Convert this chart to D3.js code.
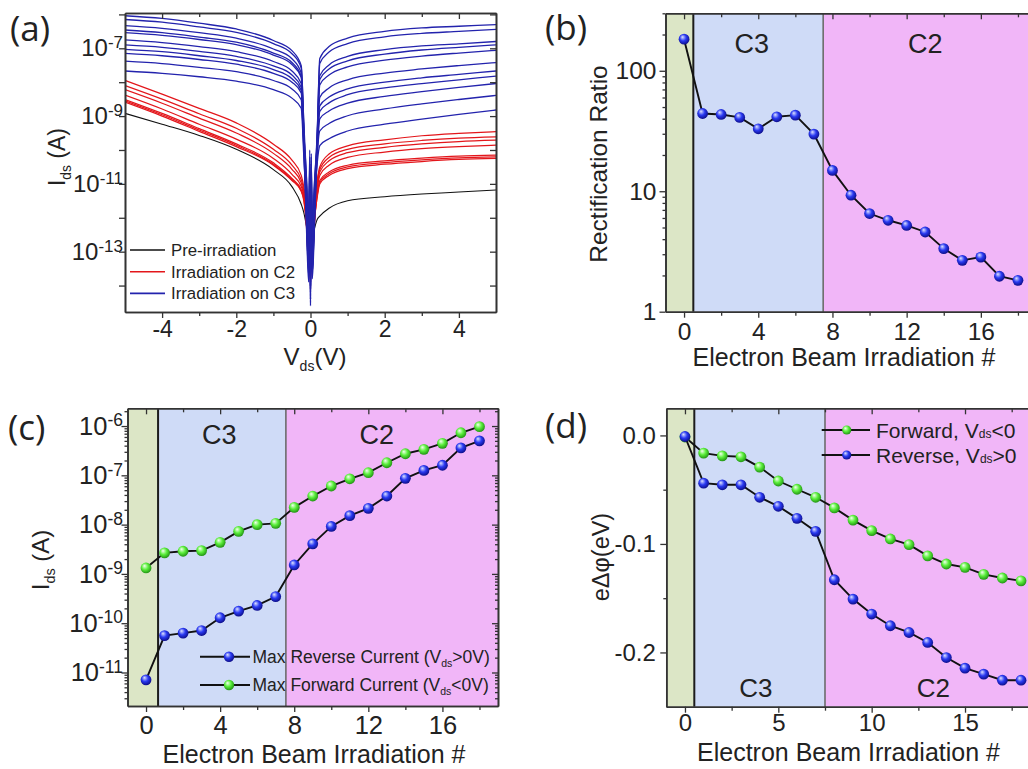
<!DOCTYPE html>
<html><head><meta charset="utf-8">
<script src="https://cdn.jsdelivr.net/npm/d3@7"></script>
<style>
html,body{margin:0;padding:0;background:#fff;}
svg{display:block;}
</style></head><body>
<svg id="chart" width="1028" height="769"></svg>
<script>
// ======================= DATA =======================
// Panel (a): I-V curves, values are log10(Ids / A) read at these Vds (V)
const vdsGrid = [-5,-4,-3,-2,-1,-0.5,-0.25,-0.18,-0.1,-0.05,-0.02,0,0.02,0.05,0.1,0.18,0.25,0.5,1,2,3,4,5];
const logIdsPre = [-8.92,-9.24,-9.57,-9.98,-10.58,-11.08,-11.6,-11.85,-12.3,-12.6,-12.85,-13.0,-12.85,-12.6,-12.35,-12.05,-11.95,-11.72,-11.5,-11.38,-11.3,-11.24,-11.18];
const logIdsC2 = [
  [-8.59,-9.0,-9.45,-9.9,-10.45,-10.9,-11.22,-11.5,-12.2,-13.0,-12.1,-13.8,-12.3,-12.9,-12.1,-11.4,-11.0,-10.75,-10.55,-10.42,-10.34,-10.28,-10.25],
  [-8.55,-8.96,-9.41,-9.86,-10.42,-10.87,-11.2,-11.45,-12.4,-13.3,-12.4,-14.0,-12.0,-13.1,-12.2,-11.35,-10.95,-10.7,-10.5,-10.37,-10.29,-10.23,-10.2],
  [-8.51,-8.92,-9.37,-9.82,-10.38,-10.84,-11.17,-11.4,-11.9,-12.8,-11.9,-13.6,-12.4,-12.7,-11.8,-11.3,-10.9,-10.65,-10.45,-10.32,-10.24,-10.18,-10.15],
  [-8.38,-8.79,-9.24,-9.68,-10.25,-10.72,-11.08,-11.35,-12.3,-13.2,-12.2,-13.9,-12.1,-13.2,-12.3,-11.2,-10.75,-10.45,-10.22,-10.06,-9.96,-9.9,-9.86],
  [-8.22,-8.62,-9.06,-9.5,-10.1,-10.57,-10.97,-11.3,-12.0,-12.9,-12.0,-13.7,-12.5,-12.8,-11.9,-11.1,-10.65,-10.32,-10.08,-9.92,-9.82,-9.75,-9.71],
  [-8.1,-8.5,-8.93,-9.36,-9.98,-10.45,-10.88,-11.2,-12.3,-13.4,-12.3,-14.1,-12.2,-13.3,-12.2,-11.0,-10.58,-10.22,-9.98,-9.82,-9.72,-9.65,-9.61],
  [-7.95,-8.35,-8.77,-9.2,-9.83,-10.3,-10.75,-11.1,-11.8,-12.7,-11.8,-13.5,-12.0,-12.6,-11.7,-10.9,-10.5,-10.12,-9.88,-9.7,-9.58,-9.51,-9.46]
];
const logIdsC3 = [
  [-7.67,-7.74,-7.84,-7.97,-8.22,-8.47,-8.77,-10.2,-11.9,-13.2,-10.8,-14.0,-11.0,-13.1,-11.7,-10.4,-9.87,-9.67,-9.44,-9.24,-9.09,-8.95,-8.82],
  [-7.38,-7.45,-7.56,-7.69,-7.95,-8.2,-8.52,-10.0,-12.4,-13.7,-11.3,-14.4,-10.6,-13.6,-12.3,-10.2,-9.44,-9.22,-8.99,-8.79,-8.64,-8.51,-8.39],
  [-7.15,-7.22,-7.33,-7.47,-7.74,-8.0,-8.32,-9.9,-11.2,-12.6,-10.4,-13.8,-11.4,-12.8,-11.3,-10.1,-9.08,-8.85,-8.62,-8.42,-8.28,-8.15,-8.04],
  [-7.03,-7.1,-7.22,-7.36,-7.63,-7.9,-8.24,-9.8,-12.6,-13.9,-11.0,-14.5,-10.3,-13.8,-12.5,-10.0,-8.86,-8.61,-8.37,-8.17,-8.04,-7.93,-7.82],
  [-6.9,-6.97,-7.09,-7.24,-7.52,-7.79,-8.15,-9.7,-11.5,-13.0,-10.2,-14.1,-11.2,-13.2,-11.6,-9.9,-8.7,-8.44,-8.2,-8.0,-7.87,-7.77,-7.67],
  [-6.75,-6.83,-6.95,-7.1,-7.39,-7.67,-8.04,-9.6,-12.2,-13.6,-11.6,-14.6,-10.1,-13.5,-12.1,-9.9,-8.45,-8.17,-7.93,-7.73,-7.61,-7.51,-7.42],
  [-6.54,-6.62,-6.74,-6.89,-7.2,-7.48,-7.86,-9.5,-11.0,-12.5,-10.0,-13.9,-10.9,-12.6,-11.1,-9.8,-8.08,-7.79,-7.55,-7.35,-7.23,-7.14,-7.06],
  [-6.46,-6.54,-6.67,-6.82,-7.14,-7.42,-7.82,-9.5,-12.0,-13.3,-10.7,-14.3,-11.5,-13.3,-12.0,-9.7,-7.92,-7.61,-7.37,-7.17,-7.05,-6.97,-6.9],
  [-6.33,-6.41,-6.54,-6.7,-7.02,-7.31,-7.73,-9.4,-11.4,-12.8,-11.2,-14.0,-10.4,-12.9,-11.5,-9.6,-7.81,-7.49,-7.24,-7.04,-6.93,-6.87,-6.8],
  [-6.15,-6.23,-6.37,-6.53,-6.86,-7.16,-7.58,-9.3,-12.3,-13.5,-10.5,-14.4,-11.1,-13.6,-12.2,-9.6,-7.45,-7.11,-6.86,-6.66,-6.56,-6.5,-6.44],
  [-6.04,-6.12,-6.26,-6.43,-6.77,-7.07,-7.51,-9.2,-11.1,-12.7,-10.9,-14.2,-10.2,-12.7,-11.2,-9.5,-7.3,-6.95,-6.7,-6.5,-6.4,-6.35,-6.3]
];
const legendA = ["Pre-irradiation","Irradiation on C2","Irradiation on C3"];

// Panels (b)-(d): electron beam irradiation number
const shotNumber = [0,1,2,3,4,5,6,7,8,9,10,11,12,13,14,15,16,17,18];
const rectificationRatio = [183,44.2,43.4,41,33,41.5,42.8,29.8,14.9,9.27,6.53,5.74,5.2,4.59,3.34,2.67,2.84,1.97,1.82];
const maxReverseCurrent = [7.1e-12,5.6e-11,6.3e-11,7.1e-11,1.29e-10,1.76e-10,2.29e-10,3.47e-10,1.52e-9,4.07e-9,9.2e-9,1.52e-8,2.14e-8,3.8e-8,8.7e-8,1.26e-7,1.6e-7,3.6e-7,5.0e-7];
const maxForwardCurrent = [1.32e-9,2.67e-9,2.88e-9,2.97e-9,4.37e-9,7.3e-9,1.0e-8,1.06e-8,2.24e-8,3.8e-8,6.07e-8,8.5e-8,1.13e-7,1.8e-7,2.74e-7,3.37e-7,4.46e-7,7.3e-7,9.7e-7];
const barrierForward = [-0.0015,-0.0163,-0.0188,-0.0197,-0.0292,-0.042,-0.0496,-0.057,-0.0668,-0.078,-0.0877,-0.0954,-0.1006,-0.111,-0.1185,-0.1216,-0.128,-0.1314,-0.134];
const barrierReverse = [-0.001,-0.044,-0.0455,-0.0455,-0.057,-0.0653,-0.0764,-0.0884,-0.133,-0.1508,-0.1646,-0.1754,-0.1816,-0.1908,-0.2047,-0.2145,-0.22,-0.2256,-0.2256];
const regionNames = ["C3","C2"];
const regionBoundsBD = [0.5, 7.5];
const regionBoundsC = [0.65, 7.55];
// x (irradiation #) at which the region names sit
const regionLabelAtB = [3.65, 13.0];
const regionLabelAtC = [3.95, 12.45];
const regionLabelAtD = [3.8, 13.3];

// ticks
const vdsTicks = [-4,-2,0,2,4], vdsMinor = [-3,-1,1,3];
const idsDecadesA = [1e-14,1e-13,1e-12,1e-11,1e-10,1e-9,1e-8,1e-7,1e-6];
const shotTicks = [0,4,8,12,16], shotMinor = [2,6,10,14,18];
const ratioTicks = [1,10,100];
const idsTicksC = [1e-11,1e-10,1e-9,1e-8,1e-7,1e-6];
const shotTicksD = [0,5,10,15], shotMinorD = [2.5,7.5,12.5,17.5];
const phiTicks = [0,-0.1,-0.2], phiMinor = [-0.05,-0.15];

// ======================= DRAWING =======================
const FONT = '"Liberation Sans", Arial, Helvetica, sans-serif';
const svg = d3.select("#chart");
const defs = svg.append("defs");
function sphere(id, c0, c1, c2) {
  const g = defs.append("radialGradient").attr("id", id)
    .attr("cx","45%").attr("cy","42%").attr("r","60%").attr("fx","35%").attr("fy","30%");
  g.append("stop").attr("offset","0%").attr("stop-color",c0);
  g.append("stop").attr("offset","50%").attr("stop-color",c1);
  g.append("stop").attr("offset","100%").attr("stop-color",c2);
}
sphere("sphBlue","#dfe3ff","#2a3af2","#0b0b85");
sphere("sphGreen","#f4fff0","#5bef3c","#1f8f12");

const colGreen = "#dce6c6", colBlue = "#cfdbf7", colPink = "#f1b6f8";
const AX = "#333";

const A = {l:125, r:496, t:13, b:312};
const B = {l:665.5, r:1036.5, t:13.3, b:311.7};
const C = {l:127.5, r:498, t:408.3, b:706};
const D = {l:666.3, r:1039.7, t:408.3, b:706.7};

function styleAxis(sel, fs) {
  sel.attr("font-family", FONT);
  sel.select(".domain").attr("stroke", AX).attr("stroke-width", 1.6);
  sel.selectAll(".tick line").attr("stroke", AX).attr("stroke-width", 1.3);
  sel.selectAll(".tick text").attr("font-size", fs).attr("fill", "#222").attr("font-family", FONT);
}
function supLabels(sel, supSize) {
  sel.selectAll(".tick text").each(function(d) {
    const t = d3.select(this);
    const e = Math.round(Math.log10(d));
    t.text(null);
    t.append("tspan").text("10");
    t.append("tspan").attr("dy","-0.48em").attr("font-size", supSize).text(String(e));
  });
}
function frame(g, x, y, o) {
  const [yb, yt] = y.range(), [xl, xr] = x.range();
  g.append("g").attr("transform",`translate(0,${yb})`)
    .call(d3.axisBottom(x).tickValues(o.xMajor).tickSize(6).tickSizeOuter(0).tickPadding(o.xPad).tickFormat(v => String(v)))
    .call(s => styleAxis(s, o.fs));
  g.append("g").attr("transform",`translate(0,${yb})`)
    .call(d3.axisBottom(x).tickValues(o.xMinor).tickSize(4).tickSizeOuter(0).tickFormat(""))
    .call(s => styleAxis(s, o.fs));
  g.append("g").attr("transform",`translate(0,${yt})`)
    .call(d3.axisTop(x).tickValues(o.xMajor).tickSize(-6).tickSizeOuter(0).tickFormat(""))
    .call(s => styleAxis(s, o.fs));
  g.append("g").attr("transform",`translate(0,${yt})`)
    .call(d3.axisTop(x).tickValues(o.xMinor).tickSize(-4).tickSizeOuter(0).tickFormat(""))
    .call(s => styleAxis(s, o.fs));
  const la = g.append("g").attr("class","leftaxis").attr("transform",`translate(${xl},0)`)
    .call(d3.axisLeft(y).tickValues(o.yMajor).tickSize(6).tickSizeOuter(0).tickPadding(o.yPad).tickFormat(o.yFmt))
    .call(s => styleAxis(s, o.fs));
  if (o.sup) supLabels(la, o.sup);
  g.append("g").attr("transform",`translate(${xl},0)`)
    .call(d3.axisLeft(y).tickValues(o.yMinor).tickSize(3).tickSizeOuter(0).tickFormat(""))
    .call(s => styleAxis(s, o.fs));
  g.append("g").attr("transform",`translate(${xr},0)`)
    .call(d3.axisRight(y).tickValues(o.yMajor).tickSize(-6).tickSizeOuter(0).tickFormat(""))
    .call(s => styleAxis(s, o.fs));
  g.append("g").attr("transform",`translate(${xr},0)`)
    .call(d3.axisRight(y).tickValues(o.yMinor).tickSize(-3).tickSizeOuter(0).tickFormat(""))
    .call(s => styleAxis(s, o.fs));
  return la;
}
function regions(g, x, y, bounds) {
  const [yb, yt] = y.range(), xd = x.domain();
  const bands = [
    {from: xd[0], to: bounds[0], fill: colGreen},
    {from: bounds[0], to: bounds[1], fill: colBlue},
    {from: bounds[1], to: xd[1], fill: colPink}
  ];
  g.selectAll(null).data(bands).join("rect")
    .attr("x", d => x(d.from)).attr("width", d => x(d.to) - x(d.from))
    .attr("y", yt).attr("height", yb - yt).attr("fill", d => d.fill);
  g.append("line").attr("x1", x(bounds[0])).attr("x2", x(bounds[0])).attr("y1", yt).attr("y2", yb)
    .attr("stroke", "#1c1c1c").attr("stroke-width", 2);
  g.append("line").attr("x1", x(bounds[1])).attr("x2", x(bounds[1])).attr("y1", yt).attr("y2", yb)
    .attr("stroke", "#6c6c6c").attr("stroke-width", 1.6);
}
function regionLabels(g, x, at, yBase, fs) {
  g.selectAll(null).data(regionNames).join("text")
    .attr("x", (d, i) => x(at[i])).attr("y", yBase)
    .attr("text-anchor", "middle").attr("font-family", FONT).attr("font-size", fs).attr("fill", "#222")
    .text(d => d);
}
function series(g, x, y, vals, grad) {
  const line = d3.line().x((v, i) => x(shotNumber[i])).y(v => y(v));
  g.append("path").attr("d", line(vals)).attr("fill", "none").attr("stroke", "#111").attr("stroke-width", 1.9);
  g.selectAll(null).data(vals).join("circle")
    .attr("cx", (v, i) => x(shotNumber[i])).attr("cy", v => y(v)).attr("r", 5.4)
    .attr("fill", `url(#${grad})`);
}
function panelLabel(txt, x, y) {
  svg.append("text").attr("x", x).attr("y", y).attr("font-family", '"Open Sans", "DejaVu Sans", sans-serif')
    .attr("font-size", 35).attr("fill", "#222").text(txt);
}
function xTitle(txt, cx, by) {
  svg.append("text").attr("x", cx).attr("y", by).attr("text-anchor", "middle")
    .attr("font-family", FONT).attr("font-size", 25).attr("fill", "#222").text(txt);
}
function idsTitle(x, cy, fs) {
  const t = svg.append("text").attr("transform", `translate(${x},${cy}) rotate(-90)`)
    .attr("text-anchor", "middle").attr("font-family", FONT).attr("font-size", fs).attr("fill", "#222");
  t.append("tspan").text("I");
  t.append("tspan").attr("font-size", fs * 0.6).attr("dy", fs * 0.25).text("ds");
  t.append("tspan").attr("dy", -fs * 0.25).text(" (A)");
}

// ---------- Panel (a) ----------
const xa = d3.scaleLinear().domain([-5, 5]).range([A.l, A.r]);
const ya = d3.scaleLog().domain([1.66e-15, 1.1e-6]).range([A.b, A.t]);
const gA = svg.append("g");
defs.append("clipPath").attr("id", "clipA").append("rect")
  .attr("x", A.l).attr("y", A.t).attr("width", A.r - A.l).attr("height", A.b - A.t);
const gAc = gA.append("g").attr("clip-path", "url(#clipA)");
const ivLine = d3.line().x((v, i) => xa(vdsGrid[i])).y(v => ya(Math.pow(10, v))).curve(d3.curveMonotoneX);
gAc.append("path").attr("d", ivLine(logIdsPre)).attr("fill", "none").attr("stroke", "#111").attr("stroke-width", 1.1);
gAc.selectAll(".c2").data(logIdsC2).join("path").attr("class", "c2")
  .attr("d", d => ivLine(d)).attr("fill", "none").attr("stroke", "#e3161b").attr("stroke-width", 1.25);
gAc.selectAll(".c3").data(logIdsC3).join("path").attr("class", "c3")
  .attr("d", d => ivLine(d)).attr("fill", "none").attr("stroke", "#2323ad").attr("stroke-width", 1.3);
const laA = frame(gA, xa, ya, {
  xMajor: vdsTicks, xMinor: vdsMinor, xPad: 2.5, fs: 23,
  yMajor: idsDecadesA, yMinor: [], yPad: -4, yFmt: v => v, sup: 17
});
laA.selectAll(".tick text").attr("font-size", 24);
laA.selectAll(".tick text").filter(d => Math.abs(Math.round(Math.log10(d))) % 2 === 0).remove();
const legColors = ["#111", "#e3161b", "#2323ad"];
const lgA = gA.append("g");
legendA.forEach((name, i) => {
  const yy = 250 + i * 21.7;
  lgA.append("line").attr("x1", 130).attr("x2", 165).attr("y1", yy).attr("y2", yy)
    .attr("stroke", legColors[i]).attr("stroke-width", 1.6);
  lgA.append("text").attr("x", 171).attr("y", yy + 6).attr("font-family", FONT).attr("font-size", 16.8)
    .attr("fill", "#222").text(name);
});
{
  const t = svg.append("text").attr("x", 315).attr("y", 365).attr("text-anchor", "middle")
    .attr("font-family", FONT).attr("font-size", 24).attr("fill", "#222");
  t.append("tspan").text("V");
  t.append("tspan").attr("font-size", 14).attr("dy", 6).text("ds");
  t.append("tspan").attr("dy", -6).text("(V)");
}
idsTitle(65, 157, 23);
panelLabel("(a)", 10, 41);

// ---------- Panel (b) ----------
const xb = d3.scaleLinear().domain([-1, 19]).range([B.l, B.r]);
const yb = d3.scaleLog().domain([1, 300]).range([B.b, B.t]);
const gB = svg.append("g");
regions(gB, xb, yb, regionBoundsBD);
regionLabels(gB, xb, regionLabelAtB, 53, 27);
series(gB, xb, yb, rectificationRatio, "sphBlue");
frame(gB, xb, yb, {
  xMajor: shotTicks, xMinor: shotMinor, xPad: 5, fs: 24.5,
  yMajor: ratioTicks, yMinor: yb.ticks().filter(v => !ratioTicks.includes(v)), yPad: 3, yFmt: v => String(v)
});
xTitle("Electron Beam Irradiation #", 844, 366);
svg.append("text").attr("transform", "translate(606.5,164) rotate(-90)").attr("text-anchor", "middle")
  .attr("font-family", FONT).attr("font-size", 24.5).attr("fill", "#222").text("Rectification Ratio");
panelLabel("(b)", 545, 40);

// ---------- Panel (c) ----------
const xc = d3.scaleLinear().domain([-1, 19]).range([C.l, C.r]);
const yc = d3.scaleLog().domain([2.09e-12, 2.29e-6]).range([C.b, C.t]);
const gC = svg.append("g");
regions(gC, xc, yc, regionBoundsC);
regionLabels(gC, xc, regionLabelAtC, 444, 27);
series(gC, xc, yc, maxReverseCurrent, "sphBlue");
series(gC, xc, yc, maxForwardCurrent, "sphGreen");
frame(gC, xc, yc, {
  xMajor: shotTicks, xMinor: shotMinor, xPad: 4, fs: 25.5,
  yMajor: idsTicksC, yMinor: yc.ticks().filter(v => !idsTicksC.some(t => Math.abs(t - v) / t < 1e-6)),
  yPad: -1.5, yFmt: v => v, sup: 17.5
});
[["Max Reverse Current (V", ">0V)", "sphBlue"], ["Max Forward Current (V", "<0V)", "sphGreen"]].forEach((r, i) => {
  const yy = 656.7 + i * 28.3;
  gC.append("line").attr("x1", 200).attr("x2", 250).attr("y1", yy).attr("y2", yy).attr("stroke", "#111").attr("stroke-width", 1.9);
  gC.append("circle").attr("cx", 229).attr("cy", yy).attr("r", 5.2).attr("fill", `url(#${r[2]})`);
  const t = gC.append("text").attr("x", 252.5).attr("y", yy + 6).attr("font-family", FONT)
    .attr("font-size", 17.5).attr("fill", "#222");
  t.append("tspan").text(r[0]);
  t.append("tspan").attr("font-size", 10.5).attr("dy", 4).text("ds");
  t.append("tspan").attr("dy", -4).text(r[1]);
});
xTitle("Electron Beam Irradiation #", 314, 763);
idsTitle(48.5, 560, 24);
panelLabel("(c)", 8, 440);

// ---------- Panel (d) ----------
const xd = d3.scaleLinear().domain([-1, 19]).range([D.l, D.r]);
const yd = d3.scaleLinear().domain([-0.25, 0.025]).range([D.b, D.t]);
const gD = svg.append("g");
regions(gD, xd, yd, regionBoundsBD);
regionLabels(gD, xd, regionLabelAtD, 697, 26);
series(gD, xd, yd, barrierForward, "sphGreen");
series(gD, xd, yd, barrierReverse, "sphBlue");
frame(gD, xd, yd, {
  xMajor: shotTicksD, xMinor: shotMinorD, xPad: 1.5, fs: 24,
  yMajor: phiTicks, yMinor: phiMinor, yPad: 4.5, yFmt: v => v.toFixed(1)
});
[["Forward, V", "<0", "sphGreen"], ["Reverse, V", ">0", "sphBlue"]].forEach((r, i) => {
  const yy = 430 + i * 25;
  gD.append("line").attr("x1", 821.7).attr("x2", 870).attr("y1", yy).attr("y2", yy).attr("stroke", "#111").attr("stroke-width", 1.9);
  gD.append("circle").attr("cx", 846.7).attr("cy", yy).attr("r", 4.6).attr("fill", `url(#${r[2]})`);
  const t = gD.append("text").attr("x", 876).attr("y", yy + 7.5).attr("font-family", FONT)
    .attr("font-size", 21).attr("fill", "#222");
  t.append("tspan").text(r[0]);
  t.append("tspan").attr("font-size", 12).text("ds");
  t.append("tspan").text(r[1]);
});
xTitle("Electron Beam Irradiation #", 848.5, 761);
svg.append("text").attr("transform", "translate(609,557) rotate(-90)").attr("text-anchor", "middle")
  .attr("font-family", FONT).attr("font-size", 23.5).attr("fill", "#222").text("e\u0394\u03c6(eV)");
panelLabel("(d)", 545, 438);
</script>
</body></html>
